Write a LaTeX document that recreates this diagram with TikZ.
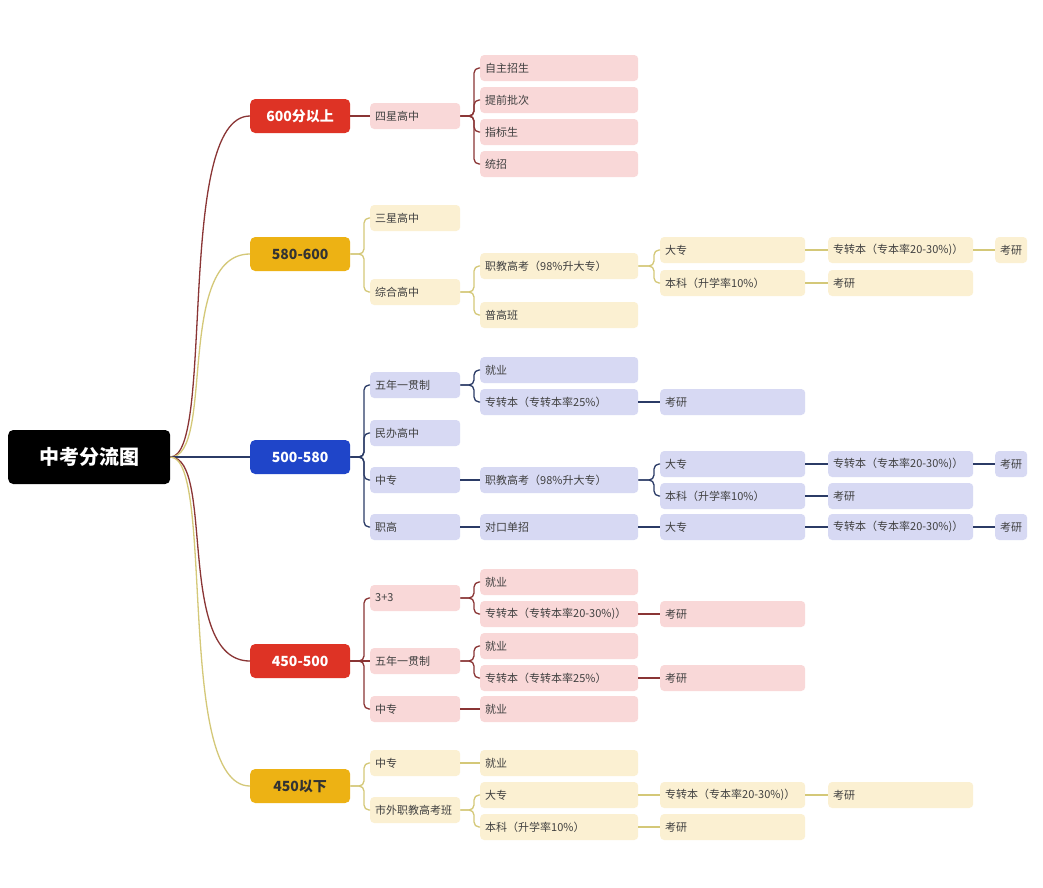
\documentclass[tikz,border=0pt]{standalone}
\usepackage{fontspec}
\setmainfont{Noto Sans CJK SC}
\begin{document}
\begin{tikzpicture}[x=1pt,y=-1pt,
  box/.style={anchor=west,rounded corners=4pt,minimum height=26pt,inner xsep=5pt,inner ysep=0pt,align=left,font=\fontsize{11}{13}\selectfont,text=black!75},
  cat/.style={anchor=west,rounded corners=5pt,minimum height=34pt,minimum width=100pt,align=center,font=\fontsize{14}{16}\selectfont\bfseries},
  pk/.style={box,fill=pinkf}, yl/.style={box,fill=yelf}, bl/.style={box,fill=bluf},
  lr/.style={draw=redl,line width=1.3pt,rounded corners=5pt},
  ly/.style={draw=yell,line width=1.3pt,rounded corners=5pt},
  lb/.style={draw=blul,line width=1.3pt,rounded corners=5pt}]
\definecolor{pinkf}{HTML}{F9D8D8}
\definecolor{yelf}{HTML}{FBF0D2}
\definecolor{bluf}{HTML}{D7D9F3}
\definecolor{redl}{HTML}{8A3535}
\definecolor{yell}{HTML}{D4C878}
\definecolor{blul}{HTML}{2B3B66}
\definecolor{catr}{HTML}{DE3325}
\definecolor{caty}{HTML}{EDB214}
\definecolor{catb}{HTML}{1F45C9}
\newcommand{\bx}[6]{\node[#5,text width=#4-10] (#1) at (#2,#3) {#6};}
\newcommand{\cn}[3]{\draw[#3] (#1.east) -| ([xshift=-6]#2.west) -- (#2.west);}
\newcommand{\sn}[3]{\draw[#3] (#1.east) -- (#2.west);}
\useasboundingbox (0,0) rectangle (1043,887);
\fill[white] (0,0) rectangle (1043,887);
\node[anchor=west,fill=black,rounded corners=5pt,minimum width=162pt,minimum height=54pt,text=white,font=\fontsize{20}{24}\selectfont\bfseries] (root) at (8,457) {中考分流图};
\node[cat,fill=catr,text=white] (c1) at (250,116) {600分以上};
\node[cat,fill=caty,text=black!80] (c2) at (250,254) {580-600};
\node[cat,fill=catb,text=white] (c3) at (250,457) {500-580};
\node[cat,fill=catr,text=white] (c4) at (250,661) {450-500};
\node[cat,fill=caty,text=black!80] (c5) at (250,786) {450以下};
\draw[draw=redl,line width=1.3pt] (root.east) .. controls +(45,0) and +(-75,0) .. (c1.west);
\draw[draw=yell,line width=1.3pt] (root.east) .. controls +(45,0) and +(-75,0) .. (c2.west);
\draw[draw=blul,line width=1.3pt] (root.east) -- (c3.west);
\draw[draw=redl,line width=1.3pt] (root.east) .. controls +(45,0) and +(-75,0) .. (c4.west);
\draw[draw=yell,line width=1.3pt] (root.east) .. controls +(45,0) and +(-75,0) .. (c5.west);
% 600
\bx{a1}{370}{116}{90}{pk}{四星高中}
\bx{a11}{480}{68}{158}{pk}{自主招生}
\bx{a12}{480}{100}{158}{pk}{提前批次}
\bx{a13}{480}{132}{158}{pk}{指标生}
\bx{a14}{480}{164}{158}{pk}{统招}
\sn{c1}{a1}{lr}
\foreach \t in {a11,a12,a13,a14}{\cn{a1}{\t}{lr}}
% 580-600
\bx{b1}{370}{218}{90}{yl}{三星高中}
\bx{b2}{370}{292}{90}{yl}{综合高中}
\bx{b21}{480}{266}{158}{yl}{职教高考（98\%升大专）}
\bx{b22}{480}{315}{158}{yl}{普高班}
\bx{b211}{660}{250}{145}{yl}{大专}
\bx{b212}{660}{283}{145}{yl}{本科（升学率10\%）}
\bx{b2111}{828}{250}{145}{yl}{专转本（专本率20-30\%)）}
\bx{b2121}{828}{283}{145}{yl}{考研}
\bx{b21111}{995}{250}{32}{yl}{考研}
\cn{c2}{b1}{ly}\cn{c2}{b2}{ly}\cn{b2}{b21}{ly}\cn{b2}{b22}{ly}
\cn{b21}{b211}{ly}\cn{b21}{b212}{ly}\sn{b211}{b2111}{ly}\sn{b212}{b2121}{ly}\sn{b2111}{b21111}{ly}
% 500-580
\bx{d1}{370}{385}{90}{bl}{五年一贯制}
\bx{d2}{370}{433}{90}{bl}{民办高中}
\bx{d3}{370}{480}{90}{bl}{中专}
\bx{d4}{370}{527}{90}{bl}{职高}
\bx{d11}{480}{370}{158}{bl}{就业}
\bx{d12}{480}{402}{158}{bl}{专转本（专转本率25\%）}
\bx{d121}{660}{402}{145}{bl}{考研}
\bx{d31}{480}{480}{158}{bl}{职教高考（98\%升大专）}
\bx{d311}{660}{464}{145}{bl}{大专}
\bx{d312}{660}{496}{145}{bl}{本科（升学率10\%）}
\bx{d3111}{828}{464}{145}{bl}{专转本（专本率20-30\%)）}
\bx{d3121}{828}{496}{145}{bl}{考研}
\bx{d31111}{995}{464}{32}{bl}{考研}
\bx{d41}{480}{527}{158}{bl}{对口单招}
\bx{d411}{660}{527}{145}{bl}{大专}
\bx{d4111}{828}{527}{145}{bl}{专转本（专本率20-30\%)）}
\bx{d41111}{995}{527}{32}{bl}{考研}
\foreach \t in {d1,d2,d3,d4}{\cn{c3}{\t}{lb}}
\cn{d1}{d11}{lb}\cn{d1}{d12}{lb}\sn{d12}{d121}{lb}
\sn{d3}{d31}{lb}\cn{d31}{d311}{lb}\cn{d31}{d312}{lb}\sn{d311}{d3111}{lb}\sn{d312}{d3121}{lb}\sn{d3111}{d31111}{lb}
\sn{d4}{d41}{lb}\sn{d41}{d411}{lb}\sn{d411}{d4111}{lb}\sn{d4111}{d41111}{lb}
% 450-500
\bx{e1}{370}{598}{90}{pk}{3+3}
\bx{e2}{370}{661}{90}{pk}{五年一贯制}
\bx{e3}{370}{709}{90}{pk}{中专}
\bx{e11}{480}{582}{158}{pk}{就业}
\bx{e12}{480}{614}{158}{pk}{专转本（专转本率20-30\%)）}
\bx{e121}{660}{614}{145}{pk}{考研}
\bx{e21}{480}{646}{158}{pk}{就业}
\bx{e22}{480}{678}{158}{pk}{专转本（专转本率25\%）}
\bx{e221}{660}{678}{145}{pk}{考研}
\bx{e31}{480}{709}{158}{pk}{就业}
\cn{c4}{e1}{lr}\sn{c4}{e2}{lr}\cn{c4}{e3}{lr}
\cn{e1}{e11}{lr}\cn{e1}{e12}{lr}\sn{e12}{e121}{lr}
\cn{e2}{e21}{lr}\cn{e2}{e22}{lr}\sn{e22}{e221}{lr}\sn{e3}{e31}{lr}
% 450 below
\bx{f1}{370}{763}{90}{yl}{中专}
\bx{f2}{370}{810}{90}{yl}{市外职教高考班}
\bx{f11}{480}{763}{158}{yl}{就业}
\bx{f21}{480}{795}{158}{yl}{大专}
\bx{f22}{480}{827}{158}{yl}{本科（升学率10\%）}
\bx{f211}{660}{795}{145}{yl}{专转本（专本率20-30\%)）}
\bx{f221}{660}{827}{145}{yl}{考研}
\bx{f2111}{828}{795}{145}{yl}{考研}
\cn{c5}{f1}{ly}\cn{c5}{f2}{ly}\sn{f1}{f11}{ly}\cn{f2}{f21}{ly}\cn{f2}{f22}{ly}
\sn{f21}{f211}{ly}\sn{f22}{f221}{ly}\sn{f211}{f2111}{ly}
\end{tikzpicture}
\end{document}
